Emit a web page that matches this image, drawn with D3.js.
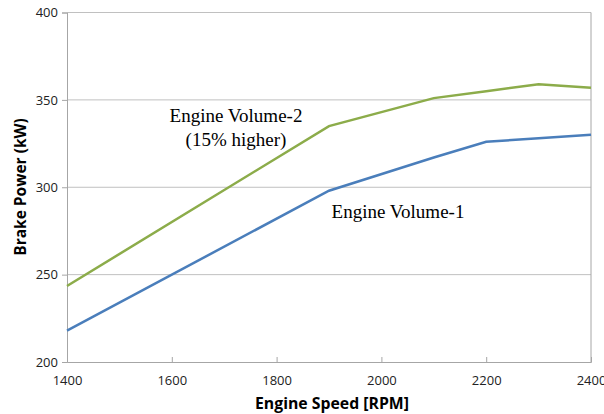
<!DOCTYPE html>
<html><head><meta charset="utf-8">
<script src="https://cdn.jsdelivr.net/npm/d3@7"></script>
<style>body{margin:0;background:#fff}</style>
</head><body>
<script>
const rpm = [1400, 1900, 2100, 2200, 2300, 2400];
const volume1 = [218, 298, 317, 326, 328, 330];
const volume2 = [243.5, 335, 351, 355, 359, 357];
const xTicks = [1400, 1600, 1800, 2000, 2200, 2400];
const yTicks = [200, 250, 300, 350, 400];

const W = 604, H = 414;
const m = {left: 67, right: 13, top: 12.5, bottom: 52};
const svg = d3.select("body").append("svg").attr("width", W).attr("height", H);
const x = d3.scaleLinear().domain([1400, 2400]).range([m.left, W - m.right]);
const y = d3.scaleLinear().domain([200, 400]).range([H - m.bottom, m.top]);
const grey = "#a6a6a6";
const tickFont = "'Open Sans', 'Noto Sans', sans-serif";

// gridlines
svg.append("g").selectAll("line").data(yTicks.filter(d => d > 200)).join("line")
  .attr("x1", x(1400)).attr("x2", x(2400))
  .attr("y1", d => y(d)).attr("y2", d => y(d))
  .attr("stroke", "#c0c0c0").attr("stroke-width", 1);

// y axis
const ya = svg.append("g").attr("transform", `translate(${x(1400)},0)`)
  .call(d3.axisLeft(y).tickValues(yTicks).tickFormat(d3.format("d")).tickSize(5).tickPadding(4));
ya.select(".domain").attr("stroke", grey);
ya.selectAll(".tick line").attr("stroke", grey);
ya.selectAll("text").attr("font-family", tickFont).attr("font-size", 13).attr("fill", "#222");

// x axis
const xa = svg.append("g").attr("transform", `translate(0,${y(200)})`)
  .call(d3.axisBottom(x).tickValues(xTicks).tickFormat(d3.format("d")).tickSize(-5).tickPadding(14));
xa.select(".domain").attr("stroke", grey);
xa.selectAll(".tick line").attr("stroke", grey);
xa.selectAll("text").attr("font-family", tickFont).attr("font-size", 13).attr("fill", "#222");

// right border
svg.append("line").attr("x1", x(2400)).attr("x2", x(2400)).attr("y1", y(400)).attr("y2", y(200))
  .attr("stroke", grey);

const line = d3.line().x((d, i) => x(rpm[i])).y(d => y(d));
svg.append("path").datum(volume1).attr("d", line).attr("fill", "none")
  .attr("stroke", "#4a7ebb").attr("stroke-width", 2.5);
svg.append("path").datum(volume2).attr("d", line).attr("fill", "none")
  .attr("stroke", "#8cac4a").attr("stroke-width", 2.5);

// axis titles
svg.append("text").attr("x", 332).attr("y", 409).attr("text-anchor", "middle")
  .attr("font-family", tickFont).attr("font-weight", "bold").attr("font-size", 15.8)
  .text("Engine Speed [RPM]");
svg.append("text").attr("transform", "translate(26,187) rotate(-90)").attr("text-anchor", "middle")
  .attr("font-family", tickFont).attr("font-weight", "bold").attr("font-size", 15.5)
  .text("Brake Power (kW)");

// annotations
const serif = "'Liberation Serif', 'Times New Roman', serif";
svg.append("text").attr("x", 236).attr("y", 122).attr("text-anchor", "middle")
  .attr("font-family", serif).attr("font-size", 19).text("Engine Volume-2");
svg.append("text").attr("x", 236).attr("y", 146).attr("text-anchor", "middle")
  .attr("font-family", serif).attr("font-size", 19).text("(15% higher)");
svg.append("text").attr("x", 398).attr("y", 218).attr("text-anchor", "middle")
  .attr("font-family", serif).attr("font-size", 19).text("Engine Volume-1");
</script>
</body></html>
